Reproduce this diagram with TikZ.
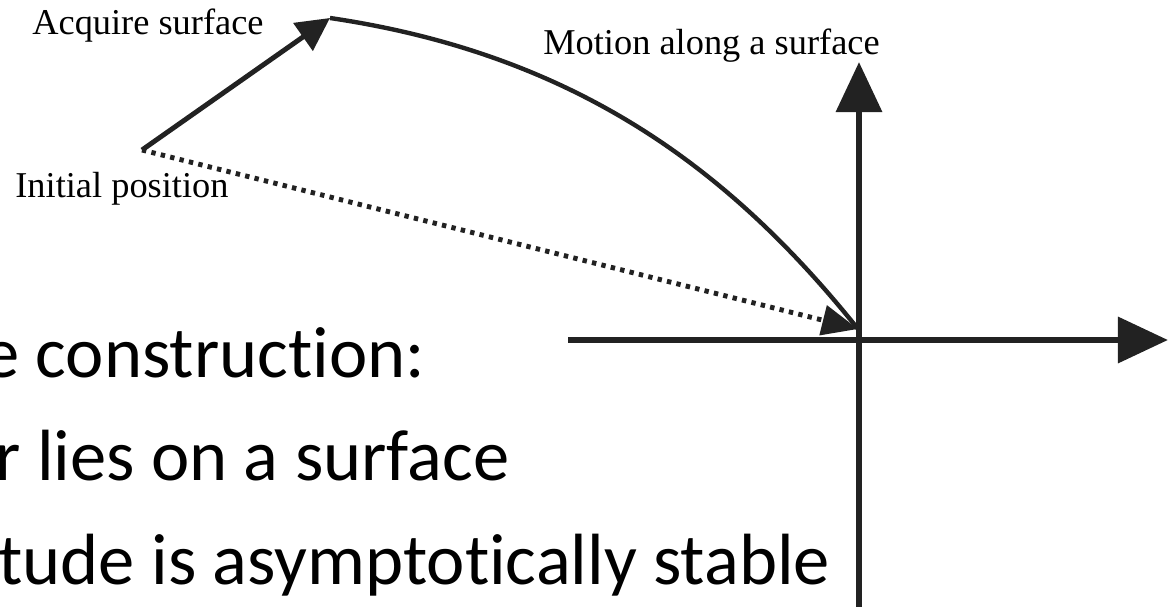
\documentclass[tikz,border=0pt]{standalone}
\usepackage{fontspec}
\usepackage{xcolor}
\setmainfont{Liberation Serif}
\newfontfamily\slidefont[Ligatures={NoCommon},RawFeature={-liga;-dlig}]{Carlito}
\usetikzlibrary{arrows.meta,positioning}
\definecolor{inkgray}{HTML}{222222}

\begin{document}
\begin{tikzpicture}[
  x=0.02cm, y=-0.02cm,
  lbl/.style={anchor=base west, inner sep=0pt, font=\fontsize{20.7pt}{25pt}\selectfont},
  slide/.style={anchor=base west, inner sep=0pt, font=\slidefont\fontsize{41.3pt}{50pt}\selectfont},
  axisline/.style={draw=inkgray, line width=3.9pt, -{Triangle[length=28.5pt, width=25.6pt]}},
  moveline/.style={draw=inkgray, line width=2.8pt, -{Triangle[length=18.8pt, width=18.8pt]}},
  surfline/.style={draw=inkgray, line width=2.5pt},
  directline/.style={draw=inkgray, line width=2.8pt, dash pattern=on 2.5pt off 3pt, -{Triangle[length=20.5pt, width=17pt]}}
]
  \useasboundingbox (0,0) rectangle (1176,607);
  % points of the motion
  \coordinate (init) at (142,150);
  \coordinate (surf) at (330,18);
  \coordinate (orig) at (858,329);
  % axes
  \coordinate (xl) at (568,340);
  \coordinate (xr) at (1168,340);
  \coordinate (yb) at (859,625);
  \coordinate (yt) at (859,62);
  \draw[axisline] (xl) -- (xr);
  \draw[axisline] (yb) -- (yt);
  % motion
  \draw[directline] (init) -- (orig);
  \draw[moveline] (init) -- (surf);
  \draw[surfline] (surf) .. controls (580,55) and (733,173) .. (orig);
  % labels
  \node[lbl] (acq) at (32,35) {Acquire surface};
  \node[lbl] (ini) at (15,198) {Initial position};
  \node[lbl] (mot) at (543,55) {Motion along a surface};
  % slide text
  \node[slide] (ln1) at (-17,378) {e construction:};
  \node[slide] (ln2) at (-5,480) {r lies on a surface};
  \node[slide] (ln3) at (-2,584) {tude is asymptotically stable};
\end{tikzpicture}
\end{document}
